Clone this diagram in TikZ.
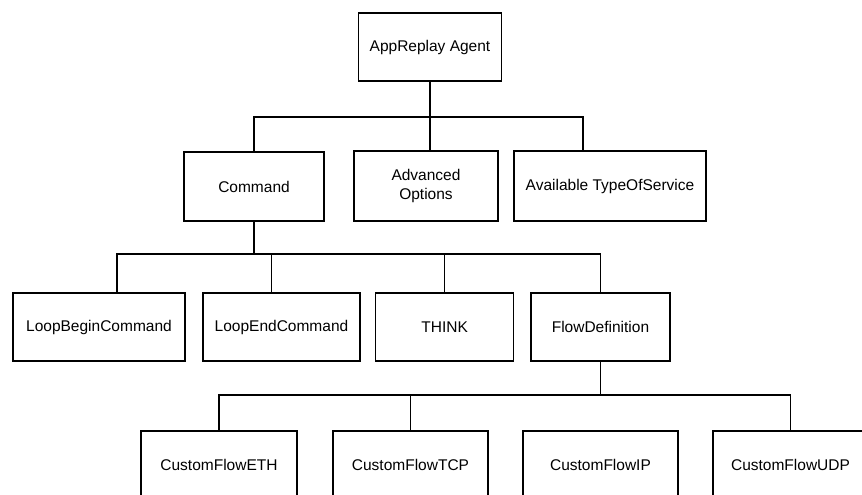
\documentclass[tikz,border=0pt]{standalone}
\usepackage{fontspec}
\setmainfont{Liberation Sans}
\usepackage{tikz}

\begin{document}
\begin{tikzpicture}[x=1pt,y=-1pt,line width=1.3pt,
    box/.style={draw,rectangle,inner sep=0pt,align=center,
      minimum height=68pt,font=\fontsize{15.5}{19}\selectfont}]
    \useasboundingbox (0,0) rectangle (862,495);
    \clip (0,0) rectangle (862,495);

    % Wurzel
    \node[box,minimum width=143pt] (agent) at (430,47) {AppReplay Agent};

    % Ebene 2
    \node[box,minimum width=140pt,minimum height=69pt] (cmd) at (254,186.5) {Command};
    \node[box,minimum width=144pt,minimum height=70pt] (adv) at (426,186) {Advanced\\Options};
    \node[box,minimum width=192pt,minimum height=70pt] (avail) at (610,186) {Available TypeOfService};

    % Ebene 3
    \node[box,minimum width=172pt] (begin) at (99,327) {LoopBeginCommand};
    \node[box,minimum width=157pt] (end) at (281.5,327) {LoopEndCommand};
    \node[box,minimum width=138pt] (think) at (444.7,327) {THINK};
    \node[box,minimum width=139pt] (flow) at (600.5,327) {FlowDefinition};

    % Ebene 4 (unten abgeschnitten)
    \node[box,minimum width=156pt] (eth) at (219,465) {CustomFlowETH};
    \node[box,minimum width=155pt] (tcp) at (410.5,465) {CustomFlowTCP};
    \node[box,minimum width=155pt] (ip) at (600.5,465) {CustomFlowIP};
    \node[box,minimum width=155pt] (udp) at (790.5,465) {CustomFlowUDP};

    % Verbindungen
    \coordinate (b1) at (430,117);
    \coordinate (b2) at (254,254);
    \coordinate (b3) at (600.5,395);

    \draw (agent.south) -- (b1);
    \draw (cmd.north) |- (b1) -| ([xshift=-27pt]avail.north);
    \draw (b1) -- (b1 |- adv.north);

    \draw (cmd.south) -- (b2);
    \draw ([xshift=18pt]begin.north) |- (b2) -| (flow.north);
    \draw ([xshift=-10pt]end.north) -- ([xshift=-10pt]end.north |- b2);
    \draw (think.north) -- (think.north |- b2);

    \draw (flow.south) -- (b3);
    \draw (eth.north) |- (b3) -| (udp.north);
    \draw (tcp.north) -- (tcp.north |- b3);
\end{tikzpicture}
\end{document}
